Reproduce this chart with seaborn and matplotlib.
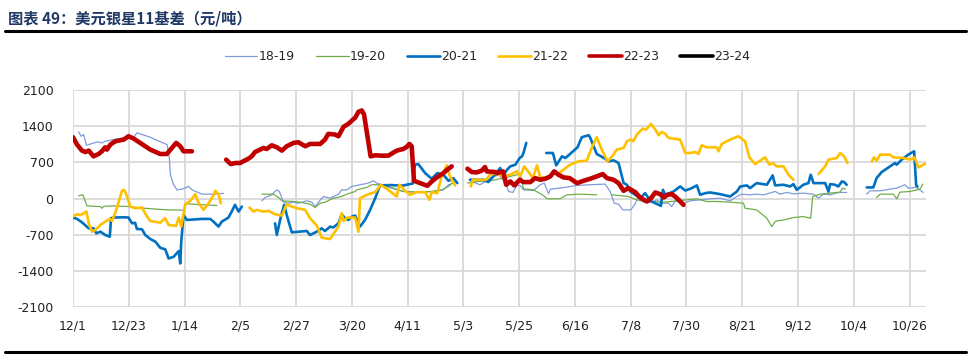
import numpy as np
import pandas as pd
import matplotlib
matplotlib.use("Agg")
import matplotlib.pyplot as plt
from matplotlib.lines import Line2D
import seaborn as sns

# x = days since 12/1, gaps marked with nan
nan = np.nan

tick_days = [0, 22, 44, 66, 88, 110, 132, 154, 176, 198, 220, 242, 264, 286, 308, 330]
tick_labels = ["12/1", "12/23", "1/14", "2/5", "2/27", "3/20", "4/11", "5/3", "5/25",
               "6/16", "7/8", "7/30", "8/21", "9/12", "10/4", "10/26"]

day_1819 = [2.2, 3.2, 4.2, 5.3, 9.5, 11.4, 12.7, 16, 20, 21.9, 23.9, 25.2, 30.5, 32.5, 37.1, 38, 38.4, 39.7, 41, 43, 45.6, 46.9, 50.9, 56.1, 59.4, nan,
            74.5, 75.8, 78.4, 80.4, 81.4, 83, 85, 87, 88.9, 92.2, 94.2, 95.5, 96.8, 98.8, 101.4, 104.7, 106, 108, 110, 113.2, 116.5, 118.5, 119.8, 121.8, 126.4, 130.3, 135.6, 142.2, 146.1, 148.1, 150, nan,
            156.6, 160.5, 163.2, 164.6, 167.9, 170.5, 171.8, 173.5, 175.1, 176.4, 177.7, 181.7, 184.3, 185.9, 187.6, 188.3, 192.2, 198.8, 204, 209.9, 211.9, 213.5, 215.2, 216.9, 220, 221.5, 223.1, 225.1, 228, 230.3, 232.3, 234.9, 236.2, 237.5, 240.8, 243.5, 247.4, 251.3, 255.3, 259.2, 261.9, 263.8, 267.1, 269.7, 272.4, 277, 278.9, 281.6, 284.2, 288.1, 292.1, 294.1, 296, 298.7, 301.9, 305.2, nan,
            313.1, 314.4, 318.4, 322.3, 324.9, 328.2, 329.5, 332.8, 335.4]
val_1819 = [1290, 1205, 1238, 1030, 1095, 1076, 1108, 1140, 1173, 1205, 1180, 1270, 1186, 1140, 1043, 784, 460, 266, 168, 181, 233, 168, 84, 84, 100, nan,
            -45, 19, 71, 168, 136, -71, -91, -71, -91, -45, -71, -156, -71, 39, 6, 84, 168, 168, 233, 266, 298, 343, 298, 266, 188, 136, 123, 136, 168, 266, 298, nan,
            343, 266, 343, 395, 460, 318, 136, 117, 253, 253, 168, 155, 266, 298, 91, 181, 201, 253, 266, 279, 136, -91, -110, -220, -220, -123, 39, -71, -71, -26, -91, -91, -156, -45, -91, -45, -26, -6, 6, -45, 39, 84, 71, 84, 71, 136, 84, 117, 91, 104, 84, 6, 84, 71, 117, 117, nan,
            84, 149, 149, 181, 201, 266, 201, 214, 117]

day_1920 = [2.2, 3.9, 5.5, 10.8, 11.4, 12.2, 16, 21.9, 27.9, 37.1, 43.6, 44.3, 50, 56.8, nan,
            74.5, 79.1, 80.4, 81.7, 82.4, 87, 89.6, 93.5, 95.5, 97.5, 99.4, 102.7, 106, 108, 111.3, 111.9, 115.9, 117.8, 121.8, 126.4, 130.3, 135.6, 141.5, 145.4, 148.1, 150, nan,
            155.6, 160, 164.6, 169.9, 175.1, 176.5, 177.7, 181.7, 185.6, 187, 192.2, 194.8, 200.1, 206.6, nan,
            212.6, 219, 222, 225.1, 233, 238.2, 246.1, 250, 254, 259.2, 264.5, 265.1, 269.7, 273.7, 275.6, 277, 277.6, 280.3, 284.2, 288.1, 291, 291.8, 294.7, 298.7, 302.6, 303.6, 304.6, nan,
            317, 318.4, 323.6, 325, 326.2, 330.2, 334.1, 335.2]
val_1920 = [52, 71, -143, -156, -188, -150, -143, -156, -188, -220, -225, -100, -120, -135, nan,
            84, 84, 39, -6, -45, -58, -71, -110, -175, -91, -71, 6, 39, 84, 136, 168, 214, 266, 266, 201, 136, 123, 136, 168, 233, 318, nan,
            300, 330, 343, 395, 460, 460, 188, 168, 58, -6, -6, 71, 84, 71, nan,
            71, 40, -20, -58, -71, -45, -6, -58, -58, -71, -91, -188, -220, -382, -544, -447, -434, -415, -369, -350, -382, 39, 84, 104, 123, 201, 181, nan,
            19, 84, 84, -6, 123, 136, 181, 279]

day_2021 = [0, 1.6, 3.5, 6.2, 8.1, 9.2, 10.8, 12.7, 14.5, 15, 16, 20, 21.9, 23.3, 24.5, 25.2, 27.2, 28.5, 30.5, 32.5, 34.4, 36.4, 37.7, 39.7, 41.7, 42.3, 42.7, 43.6, 44.9, 50.9, 54.1, 55.4, 57.4, 58.7, 61.3, 62.6, 63.9, 65.3, 66.6, nan,
            79.7, 80.4, 82, 83.3, 84.3, 86.3, 92.2, 93.5, 96.2, 98.1, 99.4, 101.4, 102.7, 104.7, 106, 107.3, 108.6, 110, 111.3, 113.2, 115.2, 117.2, 119.2, 121.1, 125, 130, 134, 134.9, 136.2, 138.9, 141.5, 143.7, 146.1, 148.1, 150, 151.6, nan,
            156.6, 161.9, 163.8, 166.6, 168.5, 169.9, 171.2, 172.5, 174.5, 176.2, 177.1, 177.7, 178.8, nan,
            186.7, 189.3, 190.6, 192.9, 194.2, 196.1, 199, 200.7, 203.4, 204, 206.6, 209.9, 211.2, 213.2, 215.2, 217.2, 218.5, 219.8, 221.8, 223.7, 225.7, 227.7, 229.7, 231.9, 232.7, 233.6, 236.9, 239.5, 241.5, 243.5, 246.1, 247.4, 249.4, 251.3, 255.3, 259.2, 261.9, 263.2, 265.8, 267.1, 269.7, 273.7, 276, 277, 280.3, 282.9, 284.2, 285.5, 288.1, 290.1, 291, 292.1, 296.7, 298, 298.7, 300.6, 301.9, 303.3, 304.2, 305.2, nan,
            313.1, 315.7, 317, 319, 322.3, 324.3, 324.9, 326.9, 329.5, 331.8, 332.6, 333.1]
val_2021 = [-369, -395, -460, -577, -577, -674, -642, -706, -739, -382, -369, -363, -369, -480, -470, -590, -596, -706, -784, -836, -953, -985, -1160, -1128, -1017, -1257, -836, -318, -415, -395, -395, -447, -544, -447, -369, -253, -123, -253, -156, nan,
            -480, -706, -350, -123, -318, -655, -629, -706, -642, -577, -629, -544, -560, -480, -305, -382, -415, -350, -330, -544, -415, -220, 6, 253, 260, 250, 290, 654, 667, 492, 382, 492, 460, 343, 395, 298, nan,
            363, 363, 318, 473, 590, 460, 557, 622, 654, 784, 816, 881, 1076, nan,
            881, 881, 642, 816, 784, 862, 991, 1186, 1225, 1180, 862, 771, 719, 739, 687, 298, 266, 136, 71, 6, 104, -45, -91, -143, 168, 71, 136, 233, 155, 188, 253, 71, 104, 117, 84, 39, 136, 233, 253, 201, 298, 266, 447, 253, 266, 233, 279, 168, 266, 298, 460, 298, 298, 136, 279, 266, 233, 330, 318, 266, nan,
            214, 214, 395, 512, 622, 687, 654, 752, 849, 914, 253, 233]

day_2122 = [0, 1.6, 3, 5.3, 6.2, 7.5, 8.8, 10.8, 12.7, 14.5, 15.4, 17.3, 19.3, 20.2, 21.3, 22.6, 24.6, 27.2, 29.2, 30.5, 34.4, 36.4, 37.7, 40.7, 41.7, 42.7, 44.3, 46.3, 48.2, 49.6, 51.5, 53.5, 55.5, 56.1, 57.4, 58.3, nan,
            69.6, 71.2, 72.5, 75.1, 77.1, 79.7, 82.4, 84.3, 85.6, 88.3, 91.6, 93.5, 96.2, 98.1, 101.4, 104.7, 106, 106.7, 108.2, 111.3, 112.6, 113.2, 116.5, 119.2, 121.4, 123.8, 127.7, 128.7, 131, 133, 135.6, 138.9, 140.6, 141.5, 143.7, 145.4, 147.4, 148.7, 150.7, nan,
            156.9, 157.7, 160.5, 163, 164.5, 167.2, 169.2, 172.5, 175.1, 176.4, 178, 179.7, 181.4, 183, 184.3, 187.6, 189.6, 191.1, 192.9, 196.1, 199.4, 202.7, 204.3, 206.6, 208.6, 210.9, 213.2, 214.5, 217.2, 218.5, 219.8, 221, 222.4, 224.8, 226.1, 228, 229.7, 231, 232.3, 233.6, 234.9, 239.5, 241.5, 243.5, 245.4, 246.7, 248, 250, 254, 254.6, 255.9, 259.2, 262.5, 265.1, 266.8, 269.1, 271.1, 273, 274.7, 276, 277.6, 280.3, 282.2, 284.2, nan,
            294.1, 296.7, 298, 301.3, 302.6, 304.2, 305.5, nan,
            315.1, 316, 317, 318.4, 322.3, 323.6, 327.6, 330.2, 331.8, 332.6, 333.5, 335.4, 336.8]
val_2122 = [-350, -305, -320, -253, -480, -642, -609, -512, -447, -395, -434, -188, 149, 168, 39, -156, -188, -175, -350, -434, -467, -382, -512, -531, -369, -544, -110, -45, 84, -91, -220, -91, 71, 149, 84, -91, nan,
            -175, -253, -220, -253, -240, -305, -330, -110, -143, -188, -220, -382, -525, -758, -784, -544, -285, -434, -369, -369, -642, 6, 84, 123, 266, 188, 39, 266, 149, 71, 123, 123, -26, 123, 104, 428, 642, 428, 253, nan,
            233, 363, 363, 363, 460, 492, 428, 460, 525, 428, 622, 512, 395, 642, 408, 408, 492, 460, 538, 654, 719, 732, 946, 1186, 946, 719, 849, 946, 978, 1108, 1140, 1110, 1238, 1354, 1335, 1445, 1335, 1225, 1290, 1251, 1173, 1140, 881, 881, 901, 862, 1030, 991, 991, 914, 1056, 1140, 1205, 1108, 797, 667, 732, 797, 654, 687, 622, 622, 460, 363, nan,
            473, 622, 752, 784, 881, 816, 687, nan,
            719, 797, 732, 849, 849, 797, 784, 752, 797, 719, 603, 654, 687]

day_2223 = [0, 1.6, 3.5, 4.9, 6.2, 8.1, 10.1, 11.4, 12.7, 13.4, 14.7, 16.7, 20, 21.9, 23.9, 30.5, 34.4, 37, 39, 40.7, 42.3, 43.6, 46.9, nan,
            60.4, 62.2, 64, 65.9, 67.9, 69.2, 70.5, 71.8, 73.8, 75.1, 76.4, 78.4, 80.4, 82.4, 84.3, 87, 88.9, 91.6, 93.5, 97.5, 99.4, 100.7, 103.4, 104.7, 106.7, 108.6, 110.5, 111.3, 112.6, 113.9, 114.8, 117.4, 119.2, 121.8, 124.4, 125.7, 127.7, 130.3, 131.6, 132.7, 133.6, 134.5, 136.9, 139.8, 141.5, 143.5, 146.1, 148.1, 149.4, nan,
            155.6, 157.3, 159.2, 161.2, 162.5, 163.2, 166.5, 167.2, 169.6, 170.9, 172.5, 174.1, 176.2, 177.7, 180.4, 182.3, 184.3, 186.3, 188.3, 189.8, 191.5, 193.5, 195.9, 198.8, 201.4, 204, 206.6, 209, 210.6, 213.2, 215.2, 217.2, 219.1, 221.8, 223.7, 226.4, 228, 229.7, 231.6, 233, 234.5, 236.2, 237.5, 239.3, 240.8]
val_2223 = [1186, 1043, 927, 900, 927, 816, 862, 914, 991, 946, 1043, 1108, 1140, 1205, 1160, 946, 862, 862, 978, 1076, 1011, 914, 914, nan,
            752, 667, 687, 687, 739, 771, 816, 900, 946, 978, 959, 1030, 991, 927, 1011, 1076, 1089, 1011, 1056, 1056, 1140, 1251, 1238, 1205, 1387, 1445, 1530, 1562, 1678, 1704, 1626, 816, 836, 829, 829, 868, 927, 959, 998, 1056, 1011, 343, 298, 246, 330, 408, 492, 577, 622, nan,
            577, 512, 505, 538, 609, 525, 512, 492, 525, 266, 330, 253, 363, 318, 318, 395, 363, 382, 428, 525, 460, 408, 395, 298, 343, 382, 428, 473, 395, 363, 298, 149, 201, 123, 19, -58, 6, 117, 84, 19, 71, 84, 39, -45, -123]

day_2324 = []
val_2324 = []

series = ["18-19", "19-20", "20-21", "21-22", "22-23", "23-24"]
colors = ["#7F9CDA", "#70AD47", "#0070C0", "#FFC000", "#C00000", "#000000"]
widths = [0.9, 0.9, 1.9, 1.9, 3.3, 3.3]
days = [day_1819, day_1920, day_2021, day_2122, day_2223, day_2324]
vals = [val_1819, val_1920, val_2021, val_2122, val_2223, val_2324]

sns.set_theme(style="white")
plt.rcParams["font.family"] = ["DejaVu Sans", "Noto Sans CJK SC"]
plt.rcParams["axes.unicode_minus"] = False

fig = plt.figure(figsize=(9.71, 3.6), dpi=100)
ax = fig.add_axes([0.0752, 0.1472, 0.8785, 0.6028])

for name, c, w, d, v in zip(series, colors, widths, days, vals):
    if not d:
        continue
    df = pd.DataFrame({"day": d, "val": v})
    df["seg"] = df["day"].isna().cumsum()
    df = df.dropna()
    sns.lineplot(data=df, x="day", y="val", units="seg", estimator=None, sort=False,
                 color=c, lw=w, ax=ax, legend=False)

ax.set_xlim(0, 336.5)
ax.set_ylim(-2100, 2100)
ax.set_yticks(np.arange(-2100, 2101, 700))
ax.set_xticks(tick_days)
ax.set_xticklabels(tick_labels)
ax.set_xlabel("")
ax.set_ylabel("")
ax.grid(True, color="#D9D9D9", lw=1.3)
ax.set_axisbelow(True)
for s in ax.spines.values():
    s.set_visible(False)
ax.tick_params(axis="both", length=0, labelsize=9, colors="#222222")
ax.tick_params(axis="y", pad=14)
ax.tick_params(axis="x", pad=9)

handles = [Line2D([], [], color=c, lw=min(w, 2.6)) for c, w in zip(colors, widths)]
fig.legend(handles, series, loc="center", bbox_to_anchor=(0.502, 0.842), ncol=6, frameon=False,
           fontsize=9, handlelength=2.6, handletextpad=0.1, columnspacing=1.7)

fig.text(0.008, 0.95, "图表 49：美元银星11基差（元/吨）", fontsize=11, fontweight="bold",
         color="#1F3864", va="center", ha="left", family=["Noto Sans CJK SC", "DejaVu Sans"])
fig.add_artist(Line2D([0.005, 0.995], [0.914, 0.914], color="black", lw=2.2))
fig.add_artist(Line2D([0.005, 0.995], [0.022, 0.022], color="black", lw=2.2))

fig.savefig("out.png", dpi=100)
